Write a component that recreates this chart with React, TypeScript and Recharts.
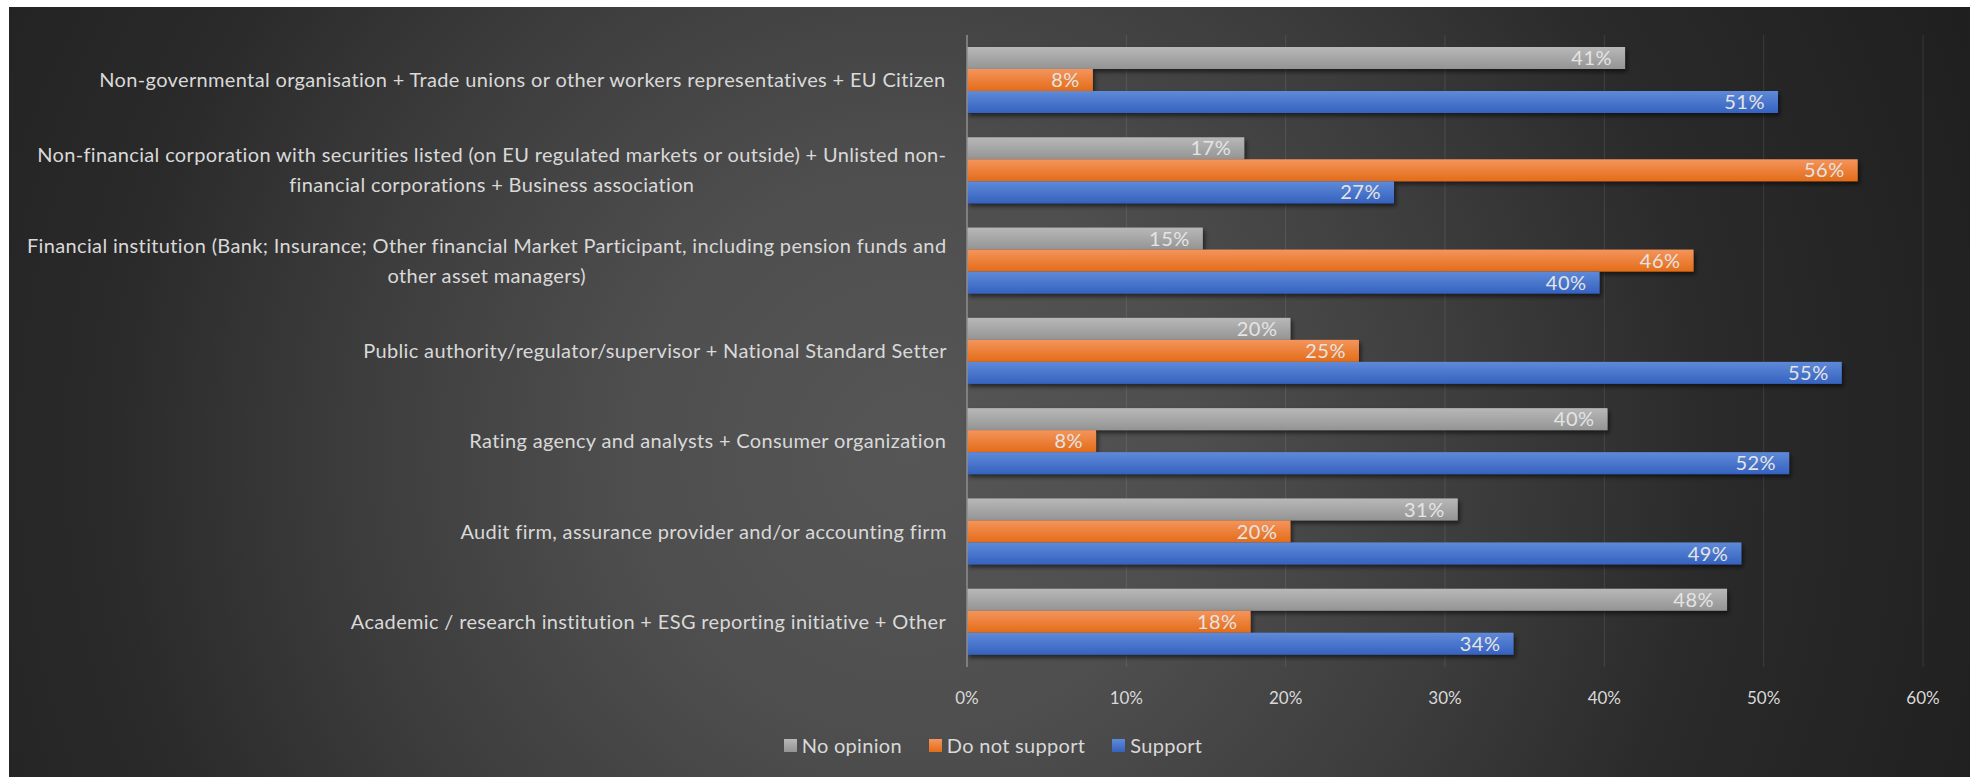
import { BarChart, Bar, XAxis, YAxis, CartesianGrid, Legend, LabelList } from 'recharts'

const categories = [
  'Non-governmental organisation + Trade unions or other workers representatives + EU Citizen',
  'Non-financial corporation with securities listed (on EU regulated markets or outside) + Unlisted non-\nfinancial corporations + Business association',
  'Financial institution (Bank; Insurance; Other financial Market Participant, including pension funds and\nother asset managers)',
  'Public authority/regulator/supervisor + National Standard Setter',
  'Rating agency and analysts + Consumer organization',
  'Audit firm, assurance provider and/or accounting firm',
  'Academic / research institution + ESG reporting initiative + Other',
]

// percentages
const noOpinion = [41.3, 17.4, 14.8, 20.3, 40.2, 30.8, 47.7]
const doNotSupport = [7.9, 55.9, 45.6, 24.6, 8.1, 20.3, 17.8]
const support = [50.9, 26.8, 39.7, 54.9, 51.6, 48.6, 34.3]

const xTicks = [0, 10, 20, 30, 40, 50, 60]

const series = [
  { key: 'noOpinion', name: 'No opinion', top: '#b8b8b8', bottom: '#949494' },
  { key: 'doNotSupport', name: 'Do not support', top: '#f4955c', bottom: '#e46c18' },
  { key: 'support', name: 'Support', top: '#5f8ad9', bottom: '#3562bf' },
]

const data = categories.map((c, i) => ({
  category: c,
  noOpinion: noOpinion[i],
  doNotSupport: doNotSupport[i],
  support: support[i],
}))

const FONT = 'Lato, "Open Sans", sans-serif'
const TEXT = '#d9d9d9'
const CAT_SIZE = 20
const CAT_SPACING = 0.35

let ctx: CanvasRenderingContext2D | null = null
function textWidth(s: string, size: number, spacing: number) {
  if (!ctx) ctx = document.createElement('canvas').getContext('2d')
  if (!ctx) return s.length * (size * 0.5 + spacing)
  ctx.font = `${size}px ${FONT}`
  return ctx.measureText(s).width + s.length * spacing
}

function CategoryTick({ x, y, payload }: any) {
  const lines: string[] = String(payload.value).split('\n')
  const widest = Math.max(...lines.map(l => textWidth(l, CAT_SIZE, CAT_SPACING)))
  const cx = x - widest / 2
  const lh = 30
  const start = y - ((lines.length - 1) * lh) / 2
  return (
    <g>
      {lines.map((l, i) => (
        <text
          key={i}
          x={cx}
          y={start + i * lh}
          dy="0.35em"
          textAnchor="middle"
          fill={TEXT}
          fontSize={CAT_SIZE}
          letterSpacing={CAT_SPACING}
          fontFamily={FONT}
        >
          {l}
        </text>
      ))}
    </g>
  )
}

function ShadowBar(props: any) {
  const { x, y, width, height, fill } = props
  if (!width || width <= 0) return null
  return <rect x={x} y={y} width={width} height={height} fill={fill} filter="url(#barShadow)" />
}

function LegendContent() {
  return (
    <div
      style={{
        height: 40,
        display: 'flex',
        justifyContent: 'center',
        alignItems: 'center',
        paddingLeft: 54,
        fontFamily: FONT,
        fontSize: 20,
        letterSpacing: 0.3,
        color: TEXT,
      }}
    >
      {series.map((s, i) => (
        <div
          key={s.key}
          style={{ display: 'flex', alignItems: 'center', marginRight: i < series.length - 1 ? 27 : 0 }}
        >
          <span
            style={{
              width: 13,
              height: 13,
              marginRight: 5,
              background: `linear-gradient(${s.top}, ${s.bottom})`,
            }}
          />
          <span>{s.name}</span>
        </div>
      ))}
    </div>
  )
}

export default function App() {
  return (
    <div
      style={{
        position: 'absolute',
        left: 9,
        top: 7,
        width: 1961,
        height: 770,
        background:
          'radial-gradient(circle farthest-corner at 46% 58%, #565656 0%, #4e4e4e 25%, #3d3d3d 48%, #2a2a2a 70%, #1f1f1f 100%)',
      }}
    >
      <BarChart
        width={1961}
        height={770}
        data={data}
        layout="vertical"
        margin={{ top: 28, right: 47, left: 0, bottom: 12 }}
        barSize={22}
        barGap={0}
      >
        <defs>
          {series.map(s => (
            <linearGradient key={s.key} id={`grad-${s.key}`} x1="0" y1="0" x2="0" y2="1">
              <stop offset="0%" stopColor={s.top} />
              <stop offset="100%" stopColor={s.bottom} />
            </linearGradient>
          ))}
          <filter id="barShadow" x="-5%" y="-30%" width="110%" height="180%">
            <feDropShadow dx="2" dy="3" stdDeviation="2" floodColor="#000" floodOpacity="0.55" />
          </filter>
        </defs>
        <CartesianGrid horizontal={false} stroke="#ffffff" strokeOpacity={0.1} />
        <XAxis
          type="number"
          domain={[0, 60]}
          ticks={xTicks}
          tickFormatter={v => `${v}%`}
          tick={{ fill: TEXT, fontSize: 17, fontFamily: FONT }}
          axisLine={false}
          tickLine={false}
          tickSize={0}
          tickMargin={25}
          height={58}
        />
        <YAxis
          type="category"
          dataKey="category"
          width={958}
          tick={<CategoryTick />}
          tickLine={false}
          tickSize={0}
          tickMargin={20}
          axisLine={{ stroke: '#8c8c8c', strokeWidth: 1.5 }}
          interval={0}
        />
        <Legend verticalAlign="bottom" content={<LegendContent />} />
        {series.map(s => (
          <Bar
            key={s.key}
            dataKey={s.key}
            name={s.name}
            fill={`url(#grad-${s.key})`}
            shape={<ShadowBar />}
            isAnimationActive={false}
          >
            <LabelList
              dataKey={s.key}
              position="insideRight"
              offset={13}
              formatter={(v: any) => `${Math.round(Number(v))}%`}
              fill="#e4e4e4"
              fontSize={20}
              letterSpacing={0.5}
              fontFamily={FONT}
            />
          </Bar>
        ))}
      </BarChart>
    </div>
  )
}
